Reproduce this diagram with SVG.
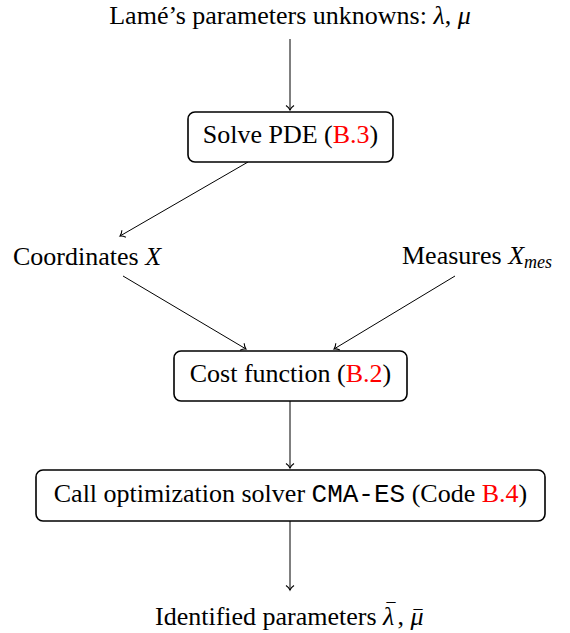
<svg xmlns="http://www.w3.org/2000/svg" width="570" height="633" viewBox="0 0 570 633">
<defs>
<marker id="tip" markerUnits="userSpaceOnUse" markerWidth="12" markerHeight="12" viewBox="-6 -6 12 12" refX="0" refY="0" orient="auto">
<path d="M -4.5 -4 C -3 -1.8 -1.2 -0.5 0 0 C -1.2 0.5 -3 1.8 -4.5 4" fill="none" stroke="#000" stroke-width="1.1"/>
</marker>
</defs>
<style>
text{font-family:"Liberation Serif","Times New Roman",serif;font-size:26px;fill:#000}
.m{font-style:italic}
.ref{fill:#ff0000}
.tt{font-family:"Liberation Mono","Courier New",monospace}
.bar{font-size:18px}
.box{fill:#fff;stroke:#000;stroke-width:1.6}
.edge{fill:none;stroke:#000;stroke-width:1;marker-end:url(#tip)}
</style>
<rect width="570" height="633" fill="#fff"/>
<g id="connectors">
<line class="edge" x1="290" y1="39" x2="290" y2="110"/>
<line class="edge" x1="248" y1="162" x2="120" y2="236"/>
<line class="edge" x1="123" y1="276" x2="246" y2="349"/>
<line class="edge" x1="455" y1="276" x2="334" y2="349"/>
<line class="edge" x1="290" y1="401" x2="290" y2="468"/>
<line class="edge" x1="290" y1="521" x2="290" y2="590"/>
</g>
<g id="unknowns">
<text x="290" y="24" text-anchor="middle">Lamé’s parameters unknowns: <tspan class="m">λ</tspan>, <tspan class="m">μ</tspan></text>
</g>
<g id="solve">
<rect class="box" x="188" y="112" width="205" height="50" rx="7"/>
<text x="290.5" y="143" text-anchor="middle">Solve PDE (<tspan class="ref">B.3</tspan>)</text>
</g>
<g id="coords">
<text x="13" y="265">Coordinates <tspan class="m">X</tspan></text>
</g>
<g id="measures">
<text x="402" y="264">Measures <tspan class="m">X</tspan><tspan class="m" font-size="18" dy="4">mes</tspan></text>
</g>
<g id="cost">
<rect class="box" x="174" y="351" width="233" height="50" rx="7"/>
<text x="290.5" y="382" text-anchor="middle">Cost function (<tspan class="ref">B.2</tspan>)</text>
</g>
<g id="solver">
<rect class="box" x="36" y="470" width="509" height="51" rx="7"/>
<text x="290.5" y="502" text-anchor="middle">Call optimization solver <tspan class="tt">CMA-ES</tspan> (Code <tspan class="ref">B.4</tspan>)</text>
</g>
<g id="identified">
<text x="155" y="625">Identified parameters <tspan class="m">λ</tspan><tspan class="bar" dx="-8" dy="-9">¯</tspan><tspan dx="2" dy="9">, </tspan><tspan class="m">μ</tspan><tspan class="bar" dx="-10" dy="-2">¯</tspan></text>
</g>
</svg>
